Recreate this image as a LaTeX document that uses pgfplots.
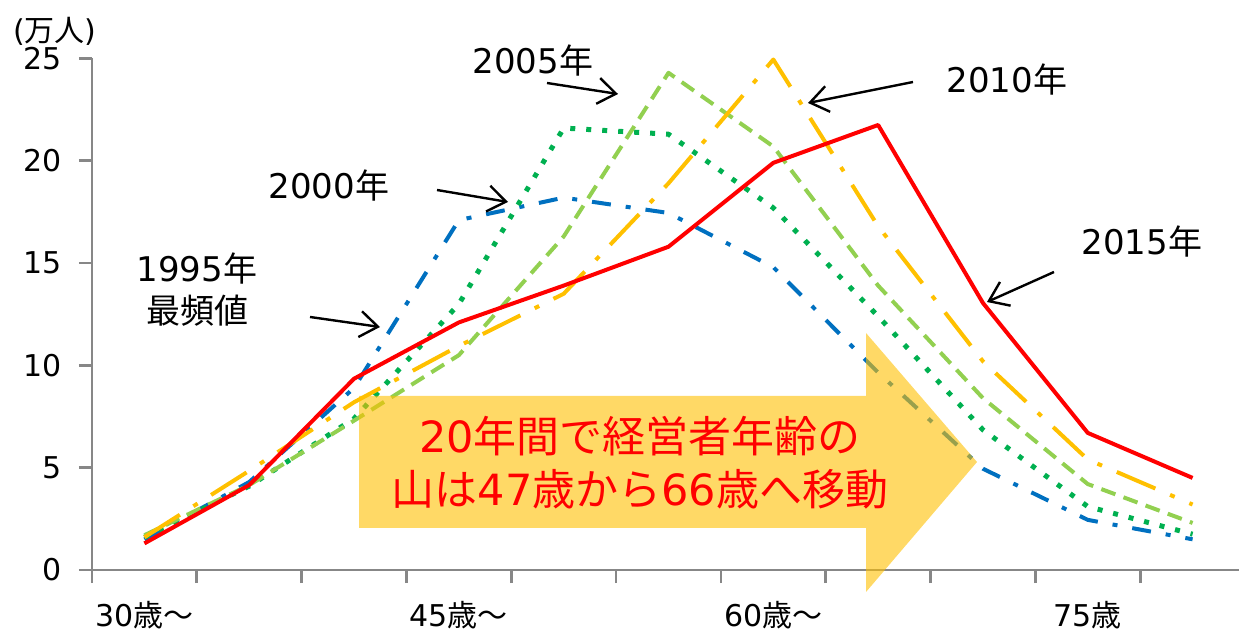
\documentclass[border=0pt]{standalone}
\usepackage{pgfplots}
\pgfplotsset{compat=1.18}
\usepackage{pgfplotstable}
\usepackage{fontspec}
\setmainfont{DejaVu Sans}
\newfontfamily\jp{Noto Sans CJK JP}
\usetikzlibrary{arrows.meta}

\definecolor{c1995}{HTML}{0070C0}
\definecolor{c2000}{HTML}{00B050}
\definecolor{c2005}{HTML}{92D050}
\definecolor{c2010}{HTML}{FFC000}
\definecolor{c2015}{HTML}{FF0000}
\definecolor{axisgray}{HTML}{878787}
\definecolor{arrowfill}{HTML}{FFC000}

% 経営者の年齢分布（万人）: 30-34歳 ... 80歳以上
\pgfplotstableread{
age y1995 y2000 y2005 y2010 y2015
0   1.50  1.60  1.70  1.60  1.30
1   4.30  4.10  4.15  4.85  4.15
2   8.90  7.40  7.30  8.20  9.35
3  17.10 13.00 10.50 10.95 12.10
4  18.20 21.60 16.30 13.50 13.90
5  17.45 21.30 24.30 18.90 15.80
6  14.80 17.70 20.70 24.95 19.90
7   9.65 12.40 13.90 16.80 21.75
8   4.95  6.85  8.40 10.20 13.05
9   2.45  3.10  4.20  5.40  6.70
10  1.50  1.75  2.30  3.20  4.50
}\mgrtable

\begin{document}
\begin{tikzpicture}
\begin{axis}[
  at={(46pt,31pt)}, anchor=south west,
  scale only axis, width=576.5pt, height=255.75pt,
  xmin=-0.5, xmax=10.5, ymin=0, ymax=25,
  axis x line*=bottom, axis y line*=left,
  axis line style={draw=axisgray, line width=1.4pt, -},
  tick style={draw=axisgray, line width=1.4pt},
  tick align=outside, major tick length=6.5pt,
  xtick={-0.5,0.5,...,10.5}, xticklabels={},
  extra x ticks={0,3,6,9},
  extra x tick labels={30{\jp 歳～},45{\jp 歳～},60{\jp 歳～},75{\jp 歳}},
  extra x tick style={major tick length=0pt,
    xticklabel style={anchor=center, inner sep=0pt, yshift=-22.5pt}},
  ytick={0,5,...,25},
  yticklabel style={anchor=east, inner sep=0pt, xshift=-8.5pt},
  tick label style={font=\fontsize{15}{18}\selectfont, text=black},
  /pgf/number format/assume math mode=true,
  clip=false,
  every axis plot/.append style={line width=2pt, line join=round, mark=none},
]
\addplot[c1995, dash pattern=on 9.5pt off 7.5pt on 2.5pt off 7.5pt]
  table[x=age, y=y1995] {\mgrtable};
\addplot[c2000, line width=2.5pt, dash pattern=on 2.5pt off 5.5pt]
  table[x=age, y=y2000] {\mgrtable};
\addplot[c2005, dash pattern=on 7.5pt off 4.3pt]
  table[x=age, y=y2005] {\mgrtable};
\addplot[c2010, dash pattern=on 21pt off 8pt on 2.5pt off 8pt]
  table[x=age, y=y2010] {\mgrtable};
\addplot[c2015]
  table[x=age, y=y2015] {\mgrtable};
\end{axis}

% annotations in units of 0.5pt, origin at the top-left corner of the page
\begin{scope}[x=0.5pt, y=-0.5pt, shift={(0pt,316pt)}]
% 単位
\node[font=\fontsize{15}{18}\selectfont] at (55,31) {({\jp 万人})};

% 山の移動を示す矢印
\fill[arrowfill, fill opacity=0.6]
  (359,396) -- (866,396) -- (866,333) -- (977,462) -- (866,592)
  -- (866,528) -- (359,528) -- cycle;
\node[text=c2015, align=center, font=\fontsize{21.5}{26.5}\selectfont]
  at (640,463) {20{\jp 年間で経営者年齢の}\\{\jp 山は}47{\jp 歳から}66{\jp 歳へ移動}};

% 各年の最頻値
\begin{scope}[font=\fontsize{17}{20}\selectfont]
  \node at (533,61) {2005{\jp 年}};
  \node at (1007,80) {2010{\jp 年}};
  \node at (329,186) {2000{\jp 年}};
  \node[align=center] at (197,290) {1995{\jp 年}\\[1pt]{\jp 最頻値}};
  \node at (1142,242) {2015{\jp 年}};
\end{scope}
\begin{scope}[line width=1.2pt, -{Straight Barb[length=9pt,width=13pt]}]
  \draw (547,83) -- (618,94);
  \draw (913,82) -- (808,103);
  \draw (437,190) -- (508,202);
  \draw (310,317) -- (380,327);
  \draw (1054,272) -- (987,302);
\end{scope}

% page frame
\pgfresetboundingbox
\useasboundingbox (0,0) rectangle (1239,632);
\end{scope}
\end{tikzpicture}
\end{document}
